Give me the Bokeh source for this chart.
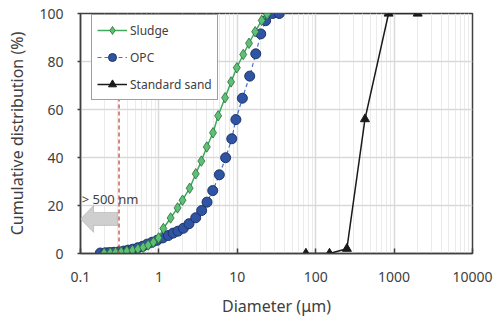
from bokeh.plotting import figure
from bokeh.models import (Legend, LegendItem, Span, Label, PolyAnnotation,
                          FixedTicker, CustomJSTickFormatter, Range1d)
from bokeh.embed import file_html
from bokeh.resources import INLINE

# ---- data ----
sludge_x = [0.2, 0.24, 0.28, 0.33, 0.39, 0.46, 0.54, 0.63, 0.73, 0.85, 0.99, 1.14,
            1.41, 1.73, 2.0, 2.47, 2.95, 3.48, 4.08, 4.9, 5.7, 6.98, 8.33, 9.86,
            11.9, 14.1, 16.9, 20.5, 24.0]
sludge_y = [0.2, 0.3, 0.5, 0.7, 1.0, 1.4, 1.9, 2.6, 3.5, 4.7, 6.5, 10.4,
            14.8, 19.0, 22.2, 27.2, 33.2, 38.5, 44.4, 50.3, 57.4, 64.9, 71.5, 77.4,
            82.9, 87.6, 92.4, 97.1, 99.7]

opc_x = [0.179, 0.209, 0.236, 0.268, 0.308, 0.356, 0.405, 0.465, 0.54, 0.62, 0.71,
         0.82, 0.95, 1.12, 1.32, 1.52, 1.75, 2.05, 2.42, 2.95, 3.51, 4.11, 4.86,
         5.9, 7.1, 8.5, 9.6, 11.6, 14.4, 17.2, 19.9, 23.0, 28.2, 34.3]
opc_y = [0.2, 0.3, 0.4, 0.5, 0.7, 1.0, 1.4, 1.8, 2.4, 3.0, 3.9,
         4.7, 5.5, 6.5, 7.5, 8.5, 9.3, 10.5, 12.4, 14.9, 17.9, 21.4, 26.2,
         32.8, 39.9, 47.8, 55.8, 64.7, 73.9, 83.2, 91.5, 97.0, 100.0, 100.0]

sand_x = [75, 150, 250, 425, 850, 2000]
sand_y = [0, 0, 2, 56, 100, 100]

xtick_values = [0.1, 1, 10, 100, 1000, 10000]
ytick_values = [0, 20, 40, 60, 80, 100]

cutoff_um = 0.31          # red dashed line (~500 nm marker)
note_text = "> 500 nm"

FONT = "Noto Sans"
TXT = "#404040"

p = figure(width=496, height=324, x_axis_type="log",
           x_range=Range1d(0.1, 10000), y_range=Range1d(0, 100),
           output_backend="svg", toolbar_location=None,
           min_border_left=80, min_border_top=13, min_border_right=24,
           min_border_bottom=71)

p.outline_line_color = "#404040"
p.outline_line_width = 1.5
p.background_fill_color = "white"
p.border_fill_color = "white"

# grids
minor = [m * 10.0 ** e for e in range(-1, 4) for m in range(2, 10)]
p.xaxis.ticker = FixedTicker(ticks=xtick_values, minor_ticks=minor)
p.xaxis.formatter = CustomJSTickFormatter(code="return tick.toString();")
p.yaxis.ticker = FixedTicker(ticks=ytick_values)
p.xgrid.grid_line_color = "#d9d9d9"
p.xgrid.grid_line_width = 1.5
p.xgrid.minor_grid_line_color = "#ebebeb"
p.xgrid.minor_grid_line_width = 1
p.ygrid.grid_line_color = "#d9d9d9"
p.ygrid.grid_line_width = 1.5

for ax in (p.xaxis[0], p.yaxis[0]):
    ax.axis_line_color = "#404040"
    ax.axis_line_width = 1.5
    ax.major_tick_line_color = "#404040"
    ax.major_tick_line_width = 1.5
    ax.minor_tick_line_color = None
    ax.major_label_text_font = FONT
    ax.major_label_text_font_size = "14px"
    ax.major_label_text_color = TXT
    ax.axis_label_text_font = FONT
    ax.axis_label_text_font_size = "16px"
    ax.axis_label_text_font_style = "normal"
    ax.axis_label_text_color = TXT

p.xaxis.major_tick_in = 5
p.xaxis.major_tick_out = 0
p.xaxis.major_label_standoff = 14
p.xaxis.axis_label = "Diameter (μm)"
p.xaxis.axis_label_standoff = 10

p.yaxis.major_tick_in = 0
p.yaxis.major_tick_out = 3
p.yaxis.major_label_standoff = 14
p.yaxis.axis_label = "Cumulative distribution (%)"
p.yaxis.axis_label_standoff = 8

# cutoff line
p.add_layout(Span(location=cutoff_um, dimension="height", line_color="#c0392b",
                  line_dash="4 3", line_width=1.2))

# series
l_sand = p.line(sand_x, sand_y, line_color="#1a1a1a", line_width=1.5)
s_sand = p.scatter(sand_x, sand_y, marker="triangle", size=9,
                   fill_color="#1a1a1a", line_color="#1a1a1a")

l_opc = p.line(opc_x, opc_y, line_color="#4a72c4", line_width=1.2, line_dash="4 3")
s_opc = p.scatter(opc_x, opc_y, marker="circle", size=10,
                  fill_color="#2f54a3", line_color="#1c3468", line_width=1)

l_sl = p.line(sludge_x, sludge_y, line_color="#3daa5c", line_width=1.5)
s_sl = p.scatter(sludge_x, sludge_y, marker="diamond", size=10.5,
                 fill_color="#5cc174", line_color="#2e6b3c", line_width=0.8)

# arrow "> 500 nm"
tip, head_base, tail = 0.1, 0.147, 0.30
cy, bh, hh = 14.4, 2.7, 5.6
p.add_layout(PolyAnnotation(
    xs=[tip, head_base, head_base, tail, tail, head_base, head_base],
    ys=[cy, cy + hh, cy + bh, cy + bh, cy - bh, cy - bh, cy - hh],
    fill_color="#cfcfcf", fill_alpha=1, line_color="#7a7a7a", line_width=1))
p.add_layout(Label(x=0.1035, y=22.9, text=note_text, text_baseline="middle",
                   text_font=FONT, text_font_size="13px", text_color=TXT))

legend = Legend(items=[
    LegendItem(label="Sludge", renderers=[l_sl, s_sl]),
    LegendItem(label="OPC", renderers=[l_opc, s_opc]),
    LegendItem(label="Standard sand", renderers=[l_sand, s_sand]),
], location=(11, 153))
legend.label_text_font = FONT
legend.label_text_font_size = "12px"
legend.label_text_color = TXT
legend.glyph_width = 30
legend.glyph_height = 20
legend.label_height = 20
legend.spacing = 7
legend.padding = 5
legend.margin = 0
legend.label_standoff = 3
legend.border_line_color = "#404040"
legend.border_line_width = 1
legend.background_fill_color = "white"
legend.background_fill_alpha = 1
p.add_layout(legend)

open("out.html", "w").write(file_html(p, INLINE))
